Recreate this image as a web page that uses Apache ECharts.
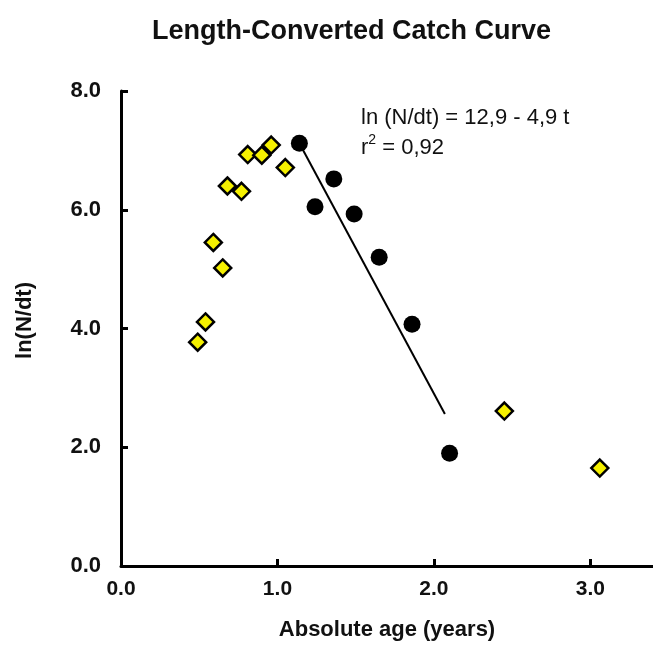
<!DOCTYPE html>
<html>
<head>
<meta charset="utf-8">
<script src="https://cdn.jsdelivr.net/npm/echarts@6/dist/echarts.min.js"></script>
<style>
  html, body { margin: 0; padding: 0; background: #fff; }
  #chart { width: 653px; height: 646px; }
</style>
</head>
<body>
<div id="chart"></div>
<script>
// puntos excluidos del ajuste (rombos amarillos)
var edadExcluidos = [0.49, 0.54, 0.59, 0.65, 0.68, 0.77, 0.81, 0.90, 0.96, 1.05, 2.45, 3.06];
var lnExcluidos = [3.77, 4.11, 5.45, 5.02, 6.40, 6.31, 6.93, 6.92, 7.09, 6.71, 2.61, 1.65];
// puntos usados en la regresion (circulos negros)
var edadAjuste = [1.14, 1.24, 1.36, 1.49, 1.65, 1.86, 2.10];
var lnAjuste = [7.12, 6.05, 6.52, 5.93, 5.20, 4.07, 1.90];
// extremos de la recta dibujada
var edadRecta = [1.14, 2.07];
var lnRecta = [7.12, 2.56];

var tickLabelsX = ["0.0", "1.0", "2.0", "3.0"];

function pares(xs, ys) {
  var out = [];
  for (var i = 0; i < xs.length; i++) {
    out.push([xs[i], ys[i]]);
  }
  return out;
}

var fuente = "Liberation Sans, Arial, sans-serif";

var option = {
  animation: false,
  title: {
    text: "Length-Converted Catch Curve",
    left: 147,
    top: 13,
    textStyle: { fontFamily: fuente, fontSize: 27, fontWeight: "bold", color: "#111" }
  },
  grid: { left: 121, top: 91, right: 0, bottom: 80, containLabel: false },
  xAxis: {
    type: "value",
    min: 0,
    max: 3.4,
    interval: 1,
    name: "Absolute age (years)",
    nameLocation: "middle",
    nameGap: 53,
    nameTextStyle: { fontFamily: fuente, fontSize: 22, fontWeight: "bold", color: "#111" },
    axisLine: { lineStyle: { color: "#000", width: 3 } },
    axisTick: { inside: true, length: 7, lineStyle: { color: "#000", width: 3 } },
    axisLabel: {
      fontFamily: fuente, fontSize: 21, fontWeight: "bold", color: "#111", margin: 13,
      formatter: function (v) { return tickLabelsX[Math.round(v)] || ""; },
      showMaxLabel: false
    },
    splitLine: { show: false }
  },
  yAxis: {
    type: "value",
    min: 0,
    max: 8,
    interval: 2,
    name: "ln(N/dt)",
    nameLocation: "middle",
    nameGap: 85,
    nameTextStyle: { fontFamily: fuente, fontSize: 22, fontWeight: "bold", color: "#111", padding: [0, 0, 0, 16] },
    axisLine: { lineStyle: { color: "#000", width: 3 } },
    axisTick: { inside: true, length: 7, lineStyle: { color: "#000", width: 3 } },
    axisLabel: {
      fontFamily: fuente, fontSize: 22, fontWeight: "bold", color: "#111", margin: 20,
      formatter: function (v) { return v.toFixed(1); }
    },
    splitLine: { show: false }
  },
  series: [
    {
      name: "Recta",
      type: "line",
      data: pares(edadRecta, lnRecta),
      symbol: "none",
      lineStyle: { color: "#000", width: 2 },
      z: 1
    },
    {
      name: "Excluidos",
      type: "scatter",
      data: pares(edadExcluidos, lnExcluidos),
      symbol: "diamond",
      symbolSize: [17, 17],
      itemStyle: { color: "#f5f000", borderColor: "#000", borderWidth: 2.5, opacity: 1 },
      z: 3
    },
    {
      name: "Ajuste",
      type: "scatter",
      data: pares(edadAjuste, lnAjuste),
      symbol: "circle",
      symbolSize: 17,
      itemStyle: { color: "#000", opacity: 1 },
      z: 3
    }
  ],
  graphic: [
    {
      type: "text",
      left: 361,
      top: 103,
      style: {
        text: "ln (N/dt) = 12,9 - 4,9 t\n{r|r}{s|2}{r| = 0,92}",
        fontFamily: fuente,
        fontSize: 22,
        lineHeight: 30,
        fill: "#111",
        rich: {
          r: { fontFamily: fuente, fontSize: 22, fill: "#111" },
          s: { fontFamily: fuente, fontSize: 14, fill: "#111", verticalAlign: "top", lineHeight: 22 }
        }
      }
    }
  ]
};

var chartDom = document.getElementById("chart");
var myChart = echarts.init(chartDom);
myChart.setOption(option);
</script>
</body>
</html>
